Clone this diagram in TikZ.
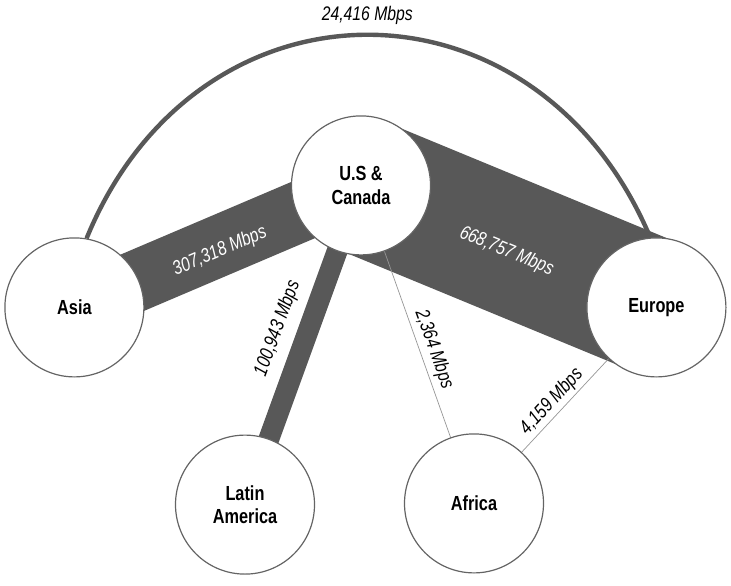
\documentclass[tikz,border=0pt]{standalone}
\usepackage{fontspec}
\setmainfont[FakeStretch=0.8]{Liberation Sans}
\usepackage{xcolor}
\definecolor{bwgray}{RGB}{88,88,88}
\definecolor{bwrim}{RGB}{100,100,100}
\definecolor{bwthin}{RGB}{150,150,150}
\usetikzlibrary{backgrounds}

\begin{document}
\begin{tikzpicture}[
  region/.style={circle,draw=bwrim,line width=0.85pt,fill=white,minimum size=3.475cm,inner sep=0pt,
    align=center,text=black,font=\fontsize{14.5}{16.5}\selectfont\bfseries},
  band/.style={bwgray,line cap=butt},
  thinlink/.style={bwthin,line width=0.5pt},
  bwlabel/.style={text=black,font=\fontsize{14}{16}\selectfont\itshape,inner sep=3pt}
]
  \useasboundingbox (0,0) rectangle (18.275,14.625);
  % Regions
  \node[region] (asia) at (1.86,6.94) {Asia};
  \node[region] (usca) at (9.025,9.99) {U.S \&\\Canada};
  \node[region] (europe) at (16.41,6.94) {Europe};
  \node[region] (latam) at (6.125,2.01) {Latin\\America};
  \node[region] (africa) at (11.85,2.04) {Africa};
  % Links
  \begin{scope}[on background layer]
    \draw[band,line width=0.11cm] (asia.80) .. controls (4.95,15.45) and (13.4,15.45) .. (europe.95)
      node[bwlabel,pos=0.5,above=3pt] {24,416 Mbps};
    \draw[band,line width=1.525cm] (asia.center) -- (usca.center)
      node[bwlabel,text=white,midway,sloped,yshift=-4pt] {307,318 Mbps};
    \draw[band,line width=3.4cm] (usca.center) -- (europe.center)
      node[bwlabel,text=white,midway,sloped,yshift=-4pt] {668,757 Mbps};
    \draw[band,line width=0.52cm] (latam.center) -- (usca.center)
      node[bwlabel,pos=0.52,sloped,above=4pt] {100,943 Mbps};
    \draw[thinlink] (usca.center) -- (africa.center)
      node[bwlabel,pos=0.53,sloped,above] {2,364 Mbps};
    \draw[thinlink] (africa.center) -- (europe.center)
      node[bwlabel,pos=0.476,sloped,above=-1pt] {4,159 Mbps};
  \end{scope}
\end{tikzpicture}
\end{document}
